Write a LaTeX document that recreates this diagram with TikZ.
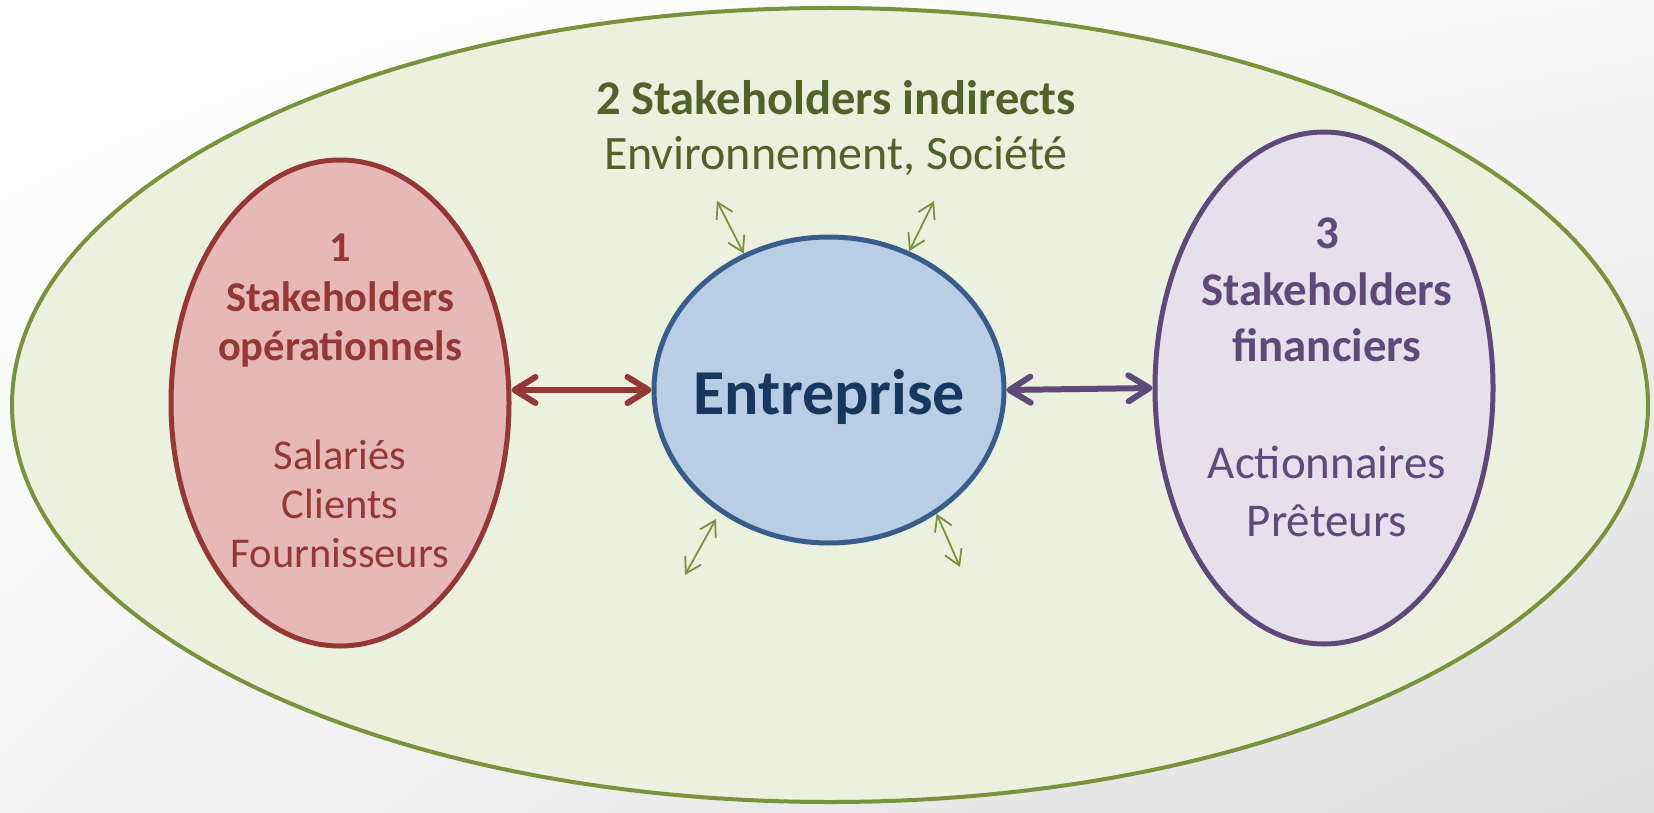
\documentclass[tikz,border=0pt]{standalone}
\usepackage{fontspec}
\setmainfont{Carlito}
\usetikzlibrary{shapes.geometric,arrows.meta,shadings}

\definecolor{olivefill}{HTML}{EBF1DE}
\definecolor{olivedraw}{HTML}{77933C}
\definecolor{olivetext}{HTML}{4F6228}
\definecolor{redfill}{HTML}{E6B9B8}
\definecolor{reddraw}{HTML}{953735}
\definecolor{bluefill}{HTML}{B9CDE5}
\definecolor{bluedraw}{HTML}{385D8A}
\definecolor{bluetext}{HTML}{17375E}
\definecolor{purplefill}{HTML}{E5E0EC}
\definecolor{purpledraw}{HTML}{5F497A}

\begin{document}
\begin{tikzpicture}[x=1pt,y=-1pt,
	zone/.style={ellipse,draw,line width=5pt,inner sep=0pt},
	link/.style={line width=6pt,{Straight Barb[round,length=21pt,width=26pt]}-{Straight Barb[round,length=21pt,width=26pt]}},
	tie/.style={draw=olivedraw,line width=1.8pt,{Straight Barb[length=15pt,width=18pt]}-{Straight Barb[length=15pt,width=18pt]}}]
	\useasboundingbox (0,0) rectangle (1654,813);
	\shade[upper left=white,upper right=gray!6,lower left=gray!8,lower right=gray!26] (0,0) rectangle (1654,813);

	\node[zone,line width=4pt,draw=olivedraw,fill=olivefill,minimum width=1636pt,minimum height=794pt]	(world)	at (830,405)	{};
	\node[zone,draw=reddraw,fill=redfill,minimum width=338pt,minimum height=486pt]	(ops)	at (340,403)	{};
	\node[zone,draw=bluedraw,fill=bluefill,minimum width=350pt,minimum height=306pt]	(ent)	at (829,390)	{};
	\node[zone,draw=purpledraw,fill=purplefill,minimum width=338pt,minimum height=512pt]	(fin)	at (1324,388)	{};

	\node[text=bluetext,font=\bfseries\fontsize{64}{76}\selectfont]	(entlbl)	at (829,397)	{Entreprise};
	\node[text=olivetext,font=\bfseries\fontsize{48.5}{58}\selectfont]	(indir)		at (836,98)		{2 Stakeholders indirects};
	\node[text=olivetext,font=\fontsize{48}{58}\selectfont]				(envsoc)	at (836,156)	{Environnement, Société};
	\node[text=reddraw,align=center,font=\bfseries\fontsize{42.5}{49.5}\selectfont]	(opstitle)	at (340,301)	{1\\Stakeholders\\opérationnels};
	\node[text=reddraw,align=center,font=\fontsize{42.5}{49}\selectfont]			(opslist)	at (340,504)	{Salariés\\Clients\\Fournisseurs};
	\node[text=purpledraw,align=center,font=\bfseries\fontsize{46.8}{56.5}\selectfont]	(fintitle)	at (1327,290)	{3\\Stakeholders\\financiers};
	\node[text=purpledraw,align=center,font=\fontsize{47}{58}\selectfont]			(finlist)	at (1327,491)	{Actionnaires\\Prêteurs};

	\coordinate (nw) at (717,201);
	\coordinate (ne) at (934,201);
	\coordinate (swin) at (716,519);
	\coordinate (sw) at (685,575);
	\coordinate (se) at (960,567);

	\draw[link,reddraw] (ops.east |- ent.west) -- (ent.west);
	\draw[link,purpledraw] (ent.east) -- (fin.west);
	\draw[tie] (nw) -- (ent.122);
	\draw[tie] (ne) -- (ent.60);
	\draw[tie] (swin) -- (sw);
	\draw[tie] (ent.311) -- (se);
\end{tikzpicture}
\end{document}
